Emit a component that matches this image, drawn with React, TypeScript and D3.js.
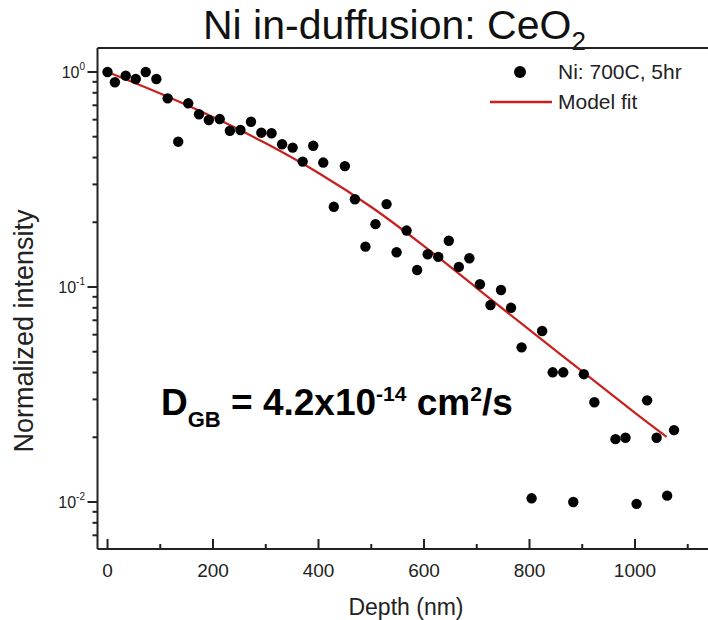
import React from "react";
import * as d3 from "d3";

// Measured data: depth (nm) and normalized intensity
const depth = [
  0, 14, 34.5, 53.5, 72.4, 92.6, 114, 134, 153, 173.5, 192, 212.7, 232, 252, 272,
  291.6, 311, 331, 351, 370, 390, 409, 429, 450, 469, 489, 508, 529, 548, 567,
  587, 607, 627, 647, 666, 686, 706, 726, 746, 765, 785, 804, 824, 844, 864,
  883, 903, 923, 963, 982, 1003, 1023, 1041, 1061, 1074,
];
const intensity = [
  1.0, 0.896, 0.961, 0.928, 1.0, 0.928, 0.754, 0.474, 0.715, 0.636, 0.598, 0.604,
  0.533, 0.537, 0.587, 0.522, 0.519, 0.461, 0.445, 0.383, 0.454, 0.379, 0.236,
  0.365, 0.256, 0.154, 0.196, 0.243, 0.145, 0.183, 0.12, 0.142, 0.138, 0.164,
  0.124, 0.136, 0.103, 0.0824, 0.0968, 0.08, 0.0524, 0.0104, 0.0624, 0.0401,
  0.0401, 0.01, 0.0393, 0.0291, 0.0196, 0.0199, 0.0098, 0.0297, 0.0199, 0.0107,
  0.0216,
];

// Model fit curve samples
const fitDepth = [0, 100, 200, 300, 400, 500, 600, 700, 800, 900, 1000, 1060];
const fitValue = [1.0, 0.794, 0.617, 0.466, 0.339, 0.2355, 0.155, 0.0989, 0.0631, 0.0405, 0.026, 0.0201];

const xMajorTicks = [0, 200, 400, 600, 800, 1000];
const xMinorTicks = [100, 300, 500, 700, 900, 1100];
const yMajorTicks = [1, 0.1, 0.01];
const yTickExponents = ["0", "-1", "-2"];

const titleMain = "Ni in-duffusion: CeO";
const titleSub = "2";
const xLabel = "Depth (nm)";
const yLabel = "Normalized intensity";
const legendPoints = "Ni: 700C, 5hr";
const legendLine = "Model fit";

const FONT = "'Liberation Sans', Arial, Helvetica, sans-serif";

export default function App() {
  const W = 708;
  const H = 620;
  const left = 97.5;
  const right = 712;
  const top = 48;
  const bottom = 549;

  const x = d3.scaleLinear().domain([-19, 1146]).range([left, right]);
  const y = d3.scaleLog().domain([0.006044, 1.2928]).range([bottom, top]);

  const yMinor = y
    .ticks()
    .filter((v) => !yMajorTicks.some((m) => Math.abs(v / m - 1) < 1e-6));

  const fitPts: [number, number][] = fitDepth.map((d, i) => [d, fitValue[i]]);
  const line = d3
    .line<[number, number]>()
    .x((d) => x(d[0]))
    .y((d) => y(d[1]))
    .curve(d3.curveCatmullRom.alpha(0.5));

  const axisColor = "#222";
  const red = "#c8201e";

  return (
    <svg
      width={W}
      height={H}
      viewBox={`0 0 ${W} ${H}`}
      style={{ position: "absolute", left: 0, top: 0, display: "block", background: "#fff" }}
      fontFamily={FONT}
    >
      <rect x={0} y={0} width={W} height={H} fill="#fff" />

      {/* Title */}
      <text x={203} y={39} fontSize={41} fill="#111">
        {titleMain}
        <tspan fontSize={26} dy={11}>{titleSub}</tspan>
      </text>

      {/* Fit line */}
      <path d={line(fitPts) || ""} fill="none" stroke={red} strokeWidth={2.2} />

      {/* Data points */}
      {depth.map((d, i) => (
        <circle key={i} cx={x(d)} cy={y(intensity[i])} r={5.2} fill="#000" />
      ))}

      {/* Frame: top line, left axis, bottom axis */}
      <line x1={left} y1={top} x2={right} y2={top} stroke={axisColor} strokeWidth={2} />
      <line x1={left} y1={top} x2={left} y2={bottom} stroke={axisColor} strokeWidth={2} />
      <line x1={left} y1={bottom} x2={right} y2={bottom} stroke={axisColor} strokeWidth={2} />

      {/* X ticks (inward) */}
      {xMajorTicks.map((t) => (
        <g key={"xM" + t}>
          <line x1={x(t)} x2={x(t)} y1={bottom} y2={bottom - 10} stroke={axisColor} strokeWidth={2} />
          <text x={x(t)} y={577} fontSize={19} textAnchor="middle" fill="#222">
            {t}
          </text>
        </g>
      ))}
      {xMinorTicks.map((t) => (
        <line key={"xm" + t} x1={x(t)} x2={x(t)} y1={bottom} y2={bottom - 5} stroke={axisColor} strokeWidth={2} />
      ))}

      {/* Y ticks (outward) */}
      {yMajorTicks.map((t, i) => (
        <g key={"yM" + t}>
          <line x1={left} x2={left - 10} y1={y(t)} y2={y(t)} stroke={axisColor} strokeWidth={2} />
          <text x={85} y={y(t) + 6} fontSize={16} textAnchor="end" fill="#222">
            10
            <tspan fontSize={10} dy={-8}>{yTickExponents[i]}</tspan>
          </text>
        </g>
      ))}
      {yMinor.map((t) => (
        <line key={"ym" + t} x1={left} x2={left - 5} y1={y(t)} y2={y(t)} stroke={axisColor} strokeWidth={2} />
      ))}

      {/* Axis labels */}
      <text x={406} y={615} fontSize={23} textAnchor="middle" fill="#222">
        {xLabel}
      </text>
      <text
        transform={`translate(33, 331) rotate(-90)`}
        fontSize={27}
        textAnchor="middle"
        fill="#222"
      >
        {yLabel}
      </text>

      {/* Legend */}
      <circle cx={520} cy={72} r={6} fill="#000" />
      <text x={558} y={79} fontSize={21} fill="#222">
        {legendPoints}
      </text>
      <line x1={490} x2={552} y1={102} y2={102} stroke={red} strokeWidth={2.5} />
      <text x={558} y={109} fontSize={21} fill="#222">
        {legendLine}
      </text>

      {/* Annotation */}
      <text x={161} y={415} fontSize={37} fontWeight="bold" fill="#000">
        D
        <tspan fontSize={22} dy={12}>GB</tspan>
        <tspan dy={-12}> = 4.2x10</tspan>
        <tspan fontSize={21} dy={-14}>-14</tspan>
        <tspan dy={14}> cm</tspan>
        <tspan fontSize={21} dy={-14}>2</tspan>
        <tspan dy={14}>/s</tspan>
      </text>
    </svg>
  );
}
